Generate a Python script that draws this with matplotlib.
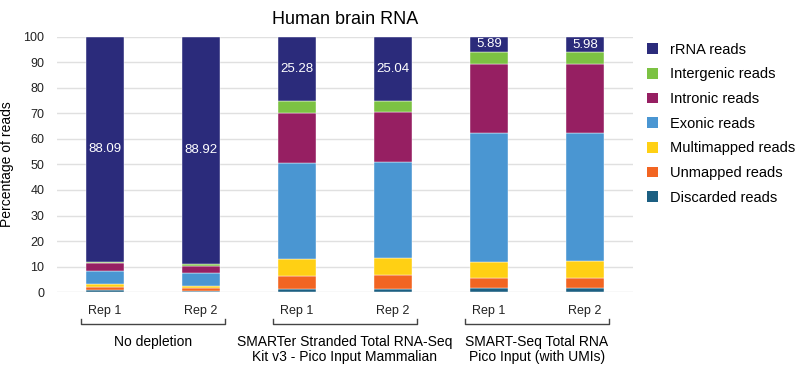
import matplotlib
matplotlib.use("Agg")
import matplotlib.pyplot as plt
import matplotlib.transforms as mtransforms
from matplotlib.patches import Patch

plt.rcParams['font.family'] = ['Liberation Sans', 'DejaVu Sans']

bar_labels = ["Rep 1", "Rep 2", "Rep 1", "Rep 2", "Rep 1", "Rep 2"]
groups = ["No depletion",
          "SMARTer Stranded Total RNA-Seq\nKit v3 - Pico Input Mammalian",
          "SMART-Seq Total RNA\nPico Input (with UMIs)"]

# stacked from bottom to top
discarded = [0.7, 0.4, 1.2, 1.1, 1.7, 1.4]
unmapped = [1.3, 1.3, 5.2, 5.7, 3.9, 4.2]
multimapped = [1.1, 0.8, 6.4, 6.5, 6.3, 6.6]
exonic = [5.1, 5.1, 37.8, 37.6, 50.5, 50.2]
intronic = [3.1, 2.7, 19.7, 19.8, 27.1, 27.1]
intergenic = [0.62, 0.78, 4.42, 4.26, 4.61, 4.52]
rrna = [88.09, 88.92, 25.28, 25.04, 5.89, 5.98]

series = [
    ("Discarded reads", discarded, "#1c5f82"),
    ("Unmapped reads", unmapped, "#f26522"),
    ("Multimapped reads", multimapped, "#ffd014"),
    ("Exonic reads", exonic, "#4a96d2"),
    ("Intronic reads", intronic, "#961f62"),
    ("Intergenic reads", intergenic, "#7cc243"),
    ("rRNA reads", rrna, "#2b2b7b"),
]

fig = plt.figure(figsize=(8, 3.68), dpi=100)
ax = fig.add_axes([0.071, 0.2065, 0.72, 0.693])

x = list(range(len(bar_labels)))
bottom = [0.0] * len(x)
for name, vals, color in series:
    ax.bar(x, vals, width=0.4, bottom=bottom, color=color, label=name,
           edgecolor="#ffffff", linewidth=0.3, zorder=3)
    bottom = [b + v for b, v in zip(bottom, vals)]

# rRNA value labels
for i, v in enumerate(rrna):
    ax.text(i, 100 - v / 2, f"{v:.2f}", ha="center", va="center",
            color="white", fontsize=9.5, zorder=4)

ax.set_xlim(-0.5, 5.5)
ax.set_ylim(0, 100)
ax.set_yticks(range(0, 101, 10))
ax.set_xticks(x)
ax.set_xticklabels(bar_labels)
ax.tick_params(axis="both", length=0, labelsize=9, colors="#222222")
ax.tick_params(axis="x", pad=9)
ax.tick_params(axis="y", pad=9)
ax.grid(axis="y", color="#e0e0e0", linewidth=1, zorder=0)
for s in ax.spines.values():
    s.set_visible(False)
ax.set_ylabel("Percentage of reads", fontsize=10)
ax.yaxis.set_label_coords(-0.075, 0.5)
ax.set_title("Human brain RNA", fontsize=13, pad=9)

# group brackets
trans = mtransforms.blended_transform_factory(ax.transData, ax.transAxes)
for g, name in enumerate(groups):
    x0 = 2 * g - 0.25
    x1 = 2 * g + 1.25
    ax.plot([x0, x0, x1, x1], [-0.106, -0.125, -0.125, -0.106], color="#444444",
            linewidth=1, transform=trans, clip_on=False)
    ax.text(2 * g + 0.5, -0.17, name, ha="center", va="top", fontsize=10,
            linespacing=1.05, transform=trans)

handles = [Patch(facecolor=c, label=n) for n, v, c in series[::-1]]
ax.legend(handles=handles, loc="upper left", bbox_to_anchor=(1.015, 1.0),
          frameon=False, fontsize=10.5, handlelength=0.75, handleheight=0.75,
          handletextpad=0.8, labelspacing=0.73, borderaxespad=0)

fig.savefig("out.png", dpi=100)
